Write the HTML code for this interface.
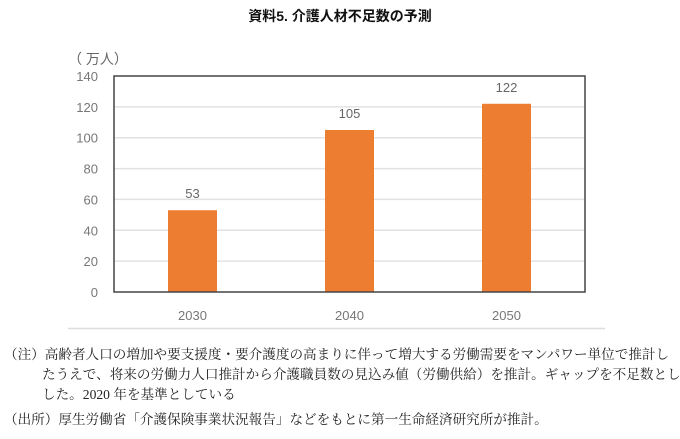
<!DOCTYPE html>
<html><head><meta charset="utf-8"><style>
body{margin:0;width:680px;height:439px;background:#fff;font-family:"Liberation Sans","Noto Sans CJK JP",sans-serif;overflow:hidden;position:relative}
.t{position:absolute;white-space:nowrap}
.note{font-family:"Liberation Serif","Noto Serif CJK SC",serif;font-size:13.6px;color:#222;position:absolute;line-height:19px;white-space:nowrap}
</style></head><body>
<div class="t" style="left:0;width:680px;text-align:center;top:6px;font-size:14px;font-weight:bold;color:#111">資料5. 介護人材不足数の予測</div>
<svg width="680" height="340" style="position:absolute;left:0;top:0">
<g id="g"></g>
<line x1="68" y1="328.5" x2="605" y2="328.5" stroke="#ddd" stroke-width="1.5"/>
</svg>
<div class="note" style="left:4px;top:345px">（注）高齢者人口の増加や要支援度・要介護度の高まりに伴って増大する労働需要をマンパワー単位で推計し</div>
<div class="note" style="left:42px;top:365px">たうえで、将来の労働力人口推計から介護職員数の見込み値（労働供給）を推計。ギャップを不足数とし</div>
<div class="note" style="left:42px;top:385px">した。2020 年を基準としている</div>
<div class="note" style="left:4px;top:410px">（出所）厚生労働省「介護保険事業状況報告」などをもとに第一生命経済研究所が推計。</div>
<script>
const categories=["2030","2040","2050"];
const values=[53,105,122];
const ticks=[0,20,40,60,80,100,120,140];
const NS="http://www.w3.org/2000/svg",g=document.getElementById('g');
const L=114,R=585,T=76,B=292,max=140;
const y=v=>B-(v/max)*(B-T);
const band=(R-L)/categories.length;
const x=i=>L+band*(i+0.5);
function mk(t,a,txt){const e=document.createElementNS(NS,t);for(const k in a)e.setAttribute(k,a[k]);if(txt!=null)e.textContent=txt;g.appendChild(e);return e;}
ticks.forEach(v=>{
 if(v>0&&v<max){const l=mk('line',{x1:L,x2:R,y1:y(v),y2:y(v),stroke:'#e2e2e2','stroke-width':1.5});
 
 }
 const t=mk('text',{x:98,y:y(v)+5,'text-anchor':'end','font-size':13,fill:'#777'},v);
 
 
});
const u=mk('text',{x:68,y:64,'font-size':14,fill:'#666'},'（ 万人）');


categories.forEach((c,i)=>{
 const w=49;
 const b=mk('rect',{x:x(i)-w/2,y:y(values[i]),width:w,height:B-y(values[i]),fill:'#ed7d31'});
 
 
 const v=mk('text',{x:x(i),y:y(values[i])-12,'text-anchor':'middle','font-size':13,fill:'#666'},values[i]);
 
 
 const t=mk('text',{x:x(i),y:320,'text-anchor':'middle','font-size':13,fill:'#777'},c);
 
 
});
const f=mk('rect',{x:L,y:T,width:R-L,height:B-T,fill:'none',stroke:'#444','stroke-width':1.5});


</script>
</body></html>
